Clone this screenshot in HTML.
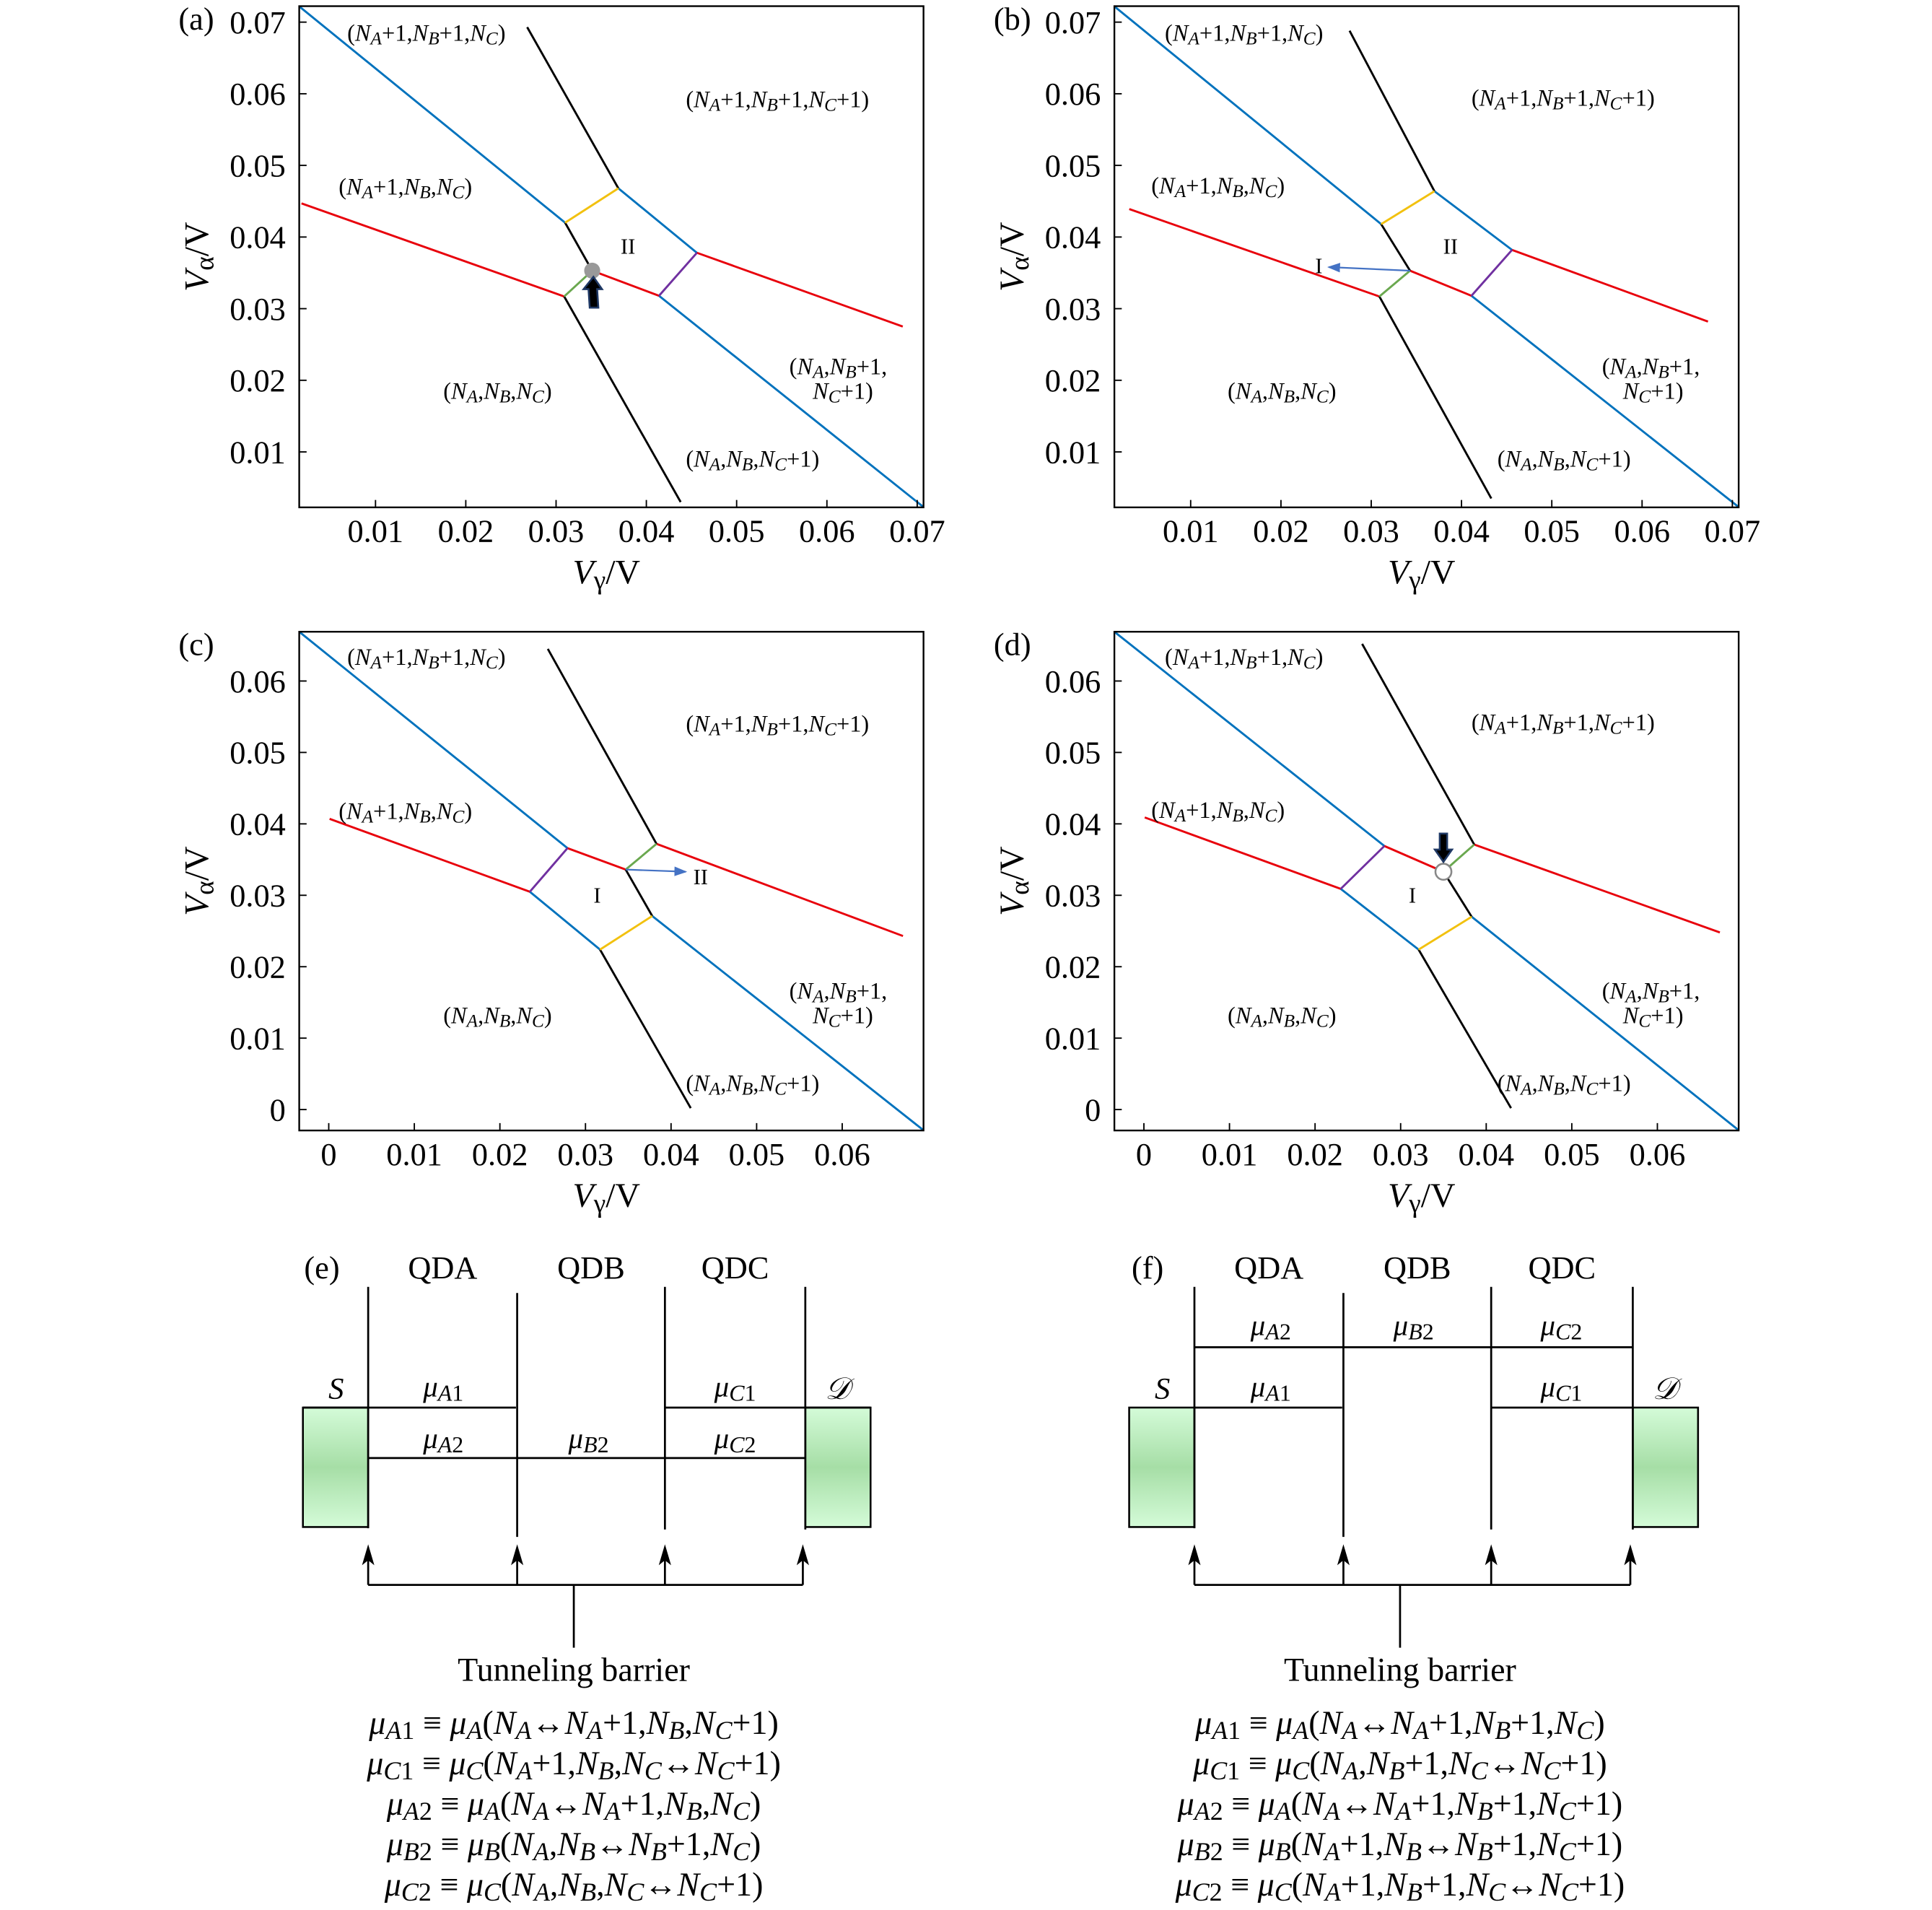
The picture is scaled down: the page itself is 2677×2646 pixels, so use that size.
<!DOCTYPE html>
<html><head><meta charset="utf-8">
<style>
html,body{margin:0;padding:0;background:#fff;overflow:hidden;}
svg{display:block;font-family:"Liberation Serif",serif;}
</style></head>
<body>
<svg id="fig" width="2677" height="2646" viewBox="0 0 1569 1551" preserveAspectRatio="none" xmlns="http://www.w3.org/2000/svg">
<defs>
<linearGradient id="lead" x1="0" y1="0" x2="0" y2="1">
<stop offset="0" stop-color="#d4fbd8"/><stop offset="0.5" stop-color="#a6dea6"/><stop offset="1" stop-color="#d4fbd8"/>
</linearGradient>
<marker id="bluehead" markerWidth="8" markerHeight="6" refX="7" refY="3" orient="auto"><path d="M0,0 L8,3 L0,6 z" fill="#4472c4"/></marker>
</defs>
<g id="charts"></g>
<g id="diagrams"></g>
</svg>
<script>
// ---------- chart data ----------
const xTicksAB = [0.01,0.02,0.03,0.04,0.05,0.06,0.07];
const yTicksAB = [0.01,0.02,0.03,0.04,0.05,0.06,0.07];
const xTickLabelsAB = ["0.01","0.02","0.03","0.04","0.05","0.06","0.07"];
const yTickLabelsAB = ["0.01","0.02","0.03","0.04","0.05","0.06","0.07"];
const xTicksCD = [0,0.01,0.02,0.03,0.04,0.05,0.06];
const yTicksCD = [0,0.01,0.02,0.03,0.04,0.05,0.06];
const xTickLabelsCD = ["0","0.01","0.02","0.03","0.04","0.05","0.06"];
const yTickLabelsCD = ["0","0.01","0.02","0.03","0.04","0.05","0.06"];
const xDomainAB = [0.00155,0.0707];
const yDomainAB = [0.00226,0.07223];
const xDomainCD = [-0.00345,0.0695];
const yDomainCD = [-0.00293,0.0669];

const blueA = [[[0.00155,0.0722],[0.0310,0.0420]],[[0.0369,0.0468],[0.0456,0.0378]],[[0.0414,0.0318],[0.0707,0.0023]]];
const redA = [[[0.0018,0.0447],[0.0309,0.0317]],[[0.0340,0.0353],[0.0414,0.0318]],[[0.0456,0.0378],[0.0684,0.0275]]];
const blackA = [[[0.0268,0.0693],[0.0369,0.0468]],[[0.0310,0.0420],[0.0340,0.0353]],[[0.0309,0.0317],[0.0438,0.0030]]];
const yellowA = [[[0.0310,0.0420],[0.0369,0.0468]]];
const greenA = [[[0.0309,0.0317],[0.0340,0.0353]]];
const purpleA = [[[0.0414,0.0318],[0.0456,0.0378]]];
const markerA = [0.0340,0.0353];

const blueB = [[[0.00155,0.0722],[0.0311,0.0418]],[[0.0370,0.0464],[0.0456,0.0382]],[[0.0411,0.0318],[0.0707,0.0023]]];
const redB = [[[0.0032,0.0439],[0.0309,0.0317]],[[0.0343,0.0353],[0.0411,0.0318]],[[0.0456,0.0382],[0.0673,0.0282]]];
const blackB = [[[0.0276,0.0688],[0.0370,0.0464]],[[0.0311,0.0418],[0.0343,0.0353]],[[0.0309,0.0317],[0.0433,0.0035]]];
const yellowB = [[[0.0311,0.0418],[0.0370,0.0464]]];
const greenB = [[[0.0309,0.0317],[0.0343,0.0353]]];
const purpleB = [[[0.0411,0.0318],[0.0456,0.0382]]];
const arrowB = [[0.0343,0.0353],[0.0253,0.0358]];

const blueC = [[[-0.00345,0.0669],[0.0279,0.0366]],[[0.0235,0.0305],[0.0317,0.0224]],[[0.0378,0.0271],[0.0695,-0.0029]]];
const redC = [[[0.0001,0.0407],[0.0235,0.0305]],[[0.0279,0.0366],[0.0347,0.0336]],[[0.0383,0.0372],[0.0671,0.0243]]];
const blackC = [[[0.0256,0.0645],[0.0383,0.0372]],[[0.0347,0.0336],[0.0378,0.0271]],[[0.0317,0.0224],[0.0423,0.0002]]];
const yellowC = [[[0.0317,0.0224],[0.0378,0.0271]]];
const greenC = [[[0.0347,0.0336],[0.0383,0.0372]]];
const purpleC = [[[0.0235,0.0305],[0.0279,0.0366]]];
const arrowC = [[0.0347,0.0336],[0.0417,0.0333]];

const blueD = [[[-0.00345,0.0669],[0.0281,0.0369]],[[0.0230,0.0309],[0.0321,0.0224]],[[0.0383,0.0270],[0.0695,-0.0029]]];
const redD = [[[0.0001,0.0409],[0.0230,0.0309]],[[0.0281,0.0369],[0.0350,0.0333]],[[0.0386,0.0371],[0.0673,0.0248]]];
const blackD = [[[0.0255,0.0652],[0.0386,0.0371]],[[0.0350,0.0333],[0.0383,0.0270]],[[0.0321,0.0224],[0.0429,0.0002]]];
const yellowD = [[[0.0321,0.0224],[0.0383,0.0270]]];
const greenD = [[[0.0350,0.0333],[0.0386,0.0371]]];
const purpleD = [[[0.0230,0.0309],[0.0281,0.0369]]];
const markerD = [0.0350,0.0333];

// ---------- helpers ----------
const NS = "http://www.w3.org/2000/svg";
function el(tag, attrs, parent){
  const e = document.createElementNS(NS, tag);
  for (const k in attrs) e.setAttribute(k, attrs[k]);
  parent.appendChild(e);
  return e;
}
function rich(s){
  s = s.replace(/_\{([^}]*)\}/g, '<tspan font-size="78%" baseline-shift="-20%">$1</tspan>');
  s = s.replace(/\*([^*]+)\*/g, '<tspan font-style="italic">$1</tspan>');
  return s;
}
function N(x){ return `*N*_{*${x}*}`; }
function mu(x,d){ return `*μ*_{*${x}*${d||""}}`; }
function txt(parent, x, y, s, size, anchor, name){
  const t = el("text", {x:x, y:y, "font-size":size, "text-anchor":anchor||"start", fill:"#000"}, parent);
  t.innerHTML = rich(s);
  
  
  return t;
}
const COLORS = {blue:"#0072bd", red:"#e8000b", black:"#000", yellow:"#f2c10f", green:"#6aa84f", purple:"#7030a0"};

function panel(cfg){
  const g = el("g", {}, document.getElementById("charts"));
  
  
  const [L,T,R,B] = cfg.box;
  const sx = v => L + (v - cfg.xd[0]) * (R - L) / (cfg.xd[1] - cfg.xd[0]);
  const sy = v => B - (v - cfg.yd[0]) * (B - T) / (cfg.yd[1] - cfg.yd[0]);
  const clip = el("clipPath", {id:"clip"+cfg.id}, g);
  el("rect", {x:L, y:T, width:R-L, height:B-T}, clip);
  const plot = el("g", {"clip-path":`url(#clip${cfg.id})`}, g);
  
  
  for (const key of ["blue","red","black","yellow","green","purple"]){
    for (const seg of cfg.series[key]){
      const l = el("polyline", {points: seg.map(p => sx(p[0])+","+sy(p[1])).join(" "), fill:"none", stroke:COLORS[key], "stroke-width":1.7}, plot);
      
      
    }
  }
  const fr = el("rect", {x:L, y:T, width:R-L, height:B-T, fill:"none", stroke:"#000", "stroke-width":1.4}, g);
  
  
  cfg.xt.forEach((v,i) => {
    const tk = el("line", {x1:sx(v), x2:sx(v), y1:B, y2:B-6, stroke:"#000", "stroke-width":1.1}, g);
    
    
    txt(g, sx(v), B+28, cfg.xl[i], 26, "middle", "x-tick-label");
  });
  cfg.yt.forEach((v,i) => {
    const tk = el("line", {x1:L, x2:L+6, y1:sy(v), y2:sy(v), stroke:"#000", "stroke-width":1.1}, g);
    
    
    txt(g, L-11, sy(v)+9, cfg.yl[i], 26, "end", "y-tick-label");
  });
  txt(g, (L+R)/2 - 4, B+62, "*V*_{γ}/V", 28, "middle", "x-axis-title");
  const yl = txt(g, 0, 0, "*V*_{α}/V", 28, "middle", "y-axis-title");
  yl.setAttribute("transform", `translate(${L-74},${(T+B)/2}) rotate(-90)`);
  txt(g, L-98, T+19, "("+cfg.id+")", 26, "start", "panel-label");
  cfg.labels.forEach(lb => txt(g, lb[0], lb[1], lb[2], 19, "start", "charge-state-label"));
  return {g, sx, sy};
}

const labAB = (dx, dy) => [
  [282+dx, 33+dy, `(${N("A")}+1,${N("B")}+1,${N("C")})`],
  [557+dx, 87+dy, `(${N("A")}+1,${N("B")}+1,${N("C")}+1)`],
  [275+dx, 158+dy, `(${N("A")}+1,${N("B")},${N("C")})`],
  [641+dx, 304+dy, `(${N("A")},${N("B")}+1,`],
  [660+dx, 324+dy, `${N("C")}+1)`],
  [360+dx, 324+dy, `(${N("A")},${N("B")},${N("C")})`],
  [557+dx, 379+dy, `(${N("A")},${N("B")},${N("C")}+1)`]
];
function shiftB(arr){ return arr.map((a,i)=>{ const adj=[[2,0],[-24,-1],[-2,-1],[-2,0],[-4,0],[-25,0],[-3,0]][i]; return [a[0]+adj[0],a[1]+adj[1],a[2]]; }); }

const pa = panel({id:"a", box:[243,5,750,412], xd:xDomainAB, yd:yDomainAB, xt:xTicksAB, yt:yTicksAB, xl:xTickLabelsAB, yl:yTickLabelsAB,
  series:{blue:blueA, red:redA, black:blackA, yellow:yellowA, green:greenA, purple:purpleA}, labels:labAB(0,0)});
const pb = panel({id:"b", box:[905,5,1412,412], xd:xDomainAB, yd:yDomainAB, xt:xTicksAB, yt:yTicksAB, xl:xTickLabelsAB, yl:yTickLabelsAB,
  series:{blue:blueB, red:redB, black:blackB, yellow:yellowB, green:greenB, purple:purpleB}, labels:shiftB(labAB(662,0))});
const pc = panel({id:"c", box:[243,513,750,918], xd:xDomainCD, yd:yDomainCD, xt:xTicksCD, yt:yTicksCD, xl:xTickLabelsCD, yl:yTickLabelsCD,
  series:{blue:blueC, red:redC, black:blackC, yellow:yellowC, green:greenC, purple:purpleC}, labels:labAB(0,507)});
const pd = panel({id:"d", box:[905,513,1412,918], xd:xDomainCD, yd:yDomainCD, xt:xTicksCD, yt:yTicksCD, xl:xTickLabelsCD, yl:yTickLabelsCD,
  series:{blue:blueD, red:redD, black:blackD, yellow:yellowD, green:greenD, purple:purpleD}, labels:shiftB(labAB(662,507))});

txt(pa.g, 510, 206, "II", 18, "middle", "region-II-label");
txt(pb.g, 1178, 206, "II", 18, "middle", "region-II-label");
txt(pc.g, 485, 733, "I", 18, "middle", "region-I-label");
txt(pd.g, 1147, 733, "I", 18, "middle", "region-I-label");
{
  const cx = pa.sx(markerA[0]), cy = pa.sy(markerA[1]);
  const dot = el("circle", {cx:cx, cy:cy, r:6.5, fill:"#999"}, pa.g);
  
  
  const ar = el("path", {d:`M${cx+1},${cy+5} l7,10 h-4 l1,15 h-7 l-1,-15 h-4 z`, fill:"#000", stroke:"#1f3864", "stroke-width":1.5}, pa.g);
  
  
}
{
  const cx = pd.sx(markerD[0]), cy = pd.sy(markerD[1]);
  const dot = el("circle", {cx:cx, cy:cy, r:6.5, fill:"#fff", stroke:"#888", "stroke-width":1.5}, pd.g);
  
  
  const ar = el("path", {d:`M${cx},${cy-8} l7,-10 h-4 v-13 h-6 v13 h-4 z`, fill:"#000", stroke:"#1f3864", "stroke-width":1.5}, pd.g);
  
  
}
{
  const a1 = el("line", {x1:pb.sx(arrowB[0][0]), y1:pb.sy(arrowB[0][1]), x2:pb.sx(arrowB[1][0]), y2:pb.sy(arrowB[1][1]), stroke:"#4472c4", "stroke-width":1.3, "marker-end":"url(#bluehead)"}, pb.g);
  
  
  txt(pb.g, 1071, 222, "I", 18, "middle", "region-I-label");
  const a2 = el("line", {x1:pc.sx(arrowC[0][0]), y1:pc.sy(arrowC[0][1]), x2:pc.sx(arrowC[1][0]), y2:pc.sy(arrowC[1][1]), stroke:"#4472c4", "stroke-width":1.3, "marker-end":"url(#bluehead)"}, pc.g);
  
  
  txt(pc.g, 569, 718, "II", 18, "middle", "region-II-label");
}

// ---------- energy diagrams ----------
function diagram(id, ox, walls, levels, muLabels, eqs, cx){
  const g = el("g", {}, document.getElementById("diagrams"));
  
  
  txt(g, ox+247, 1038, "("+id+")", 26, "start", "panel-label");
  [["QDA",0],["QDB",1],["QDC",2]].forEach(q => txt(g, (walls[q[1]][0]+walls[q[1]+1][0])/2, 1038, q[0], 26, "middle", "dot-title"));
  const s = el("rect", {x:walls[0][0]-53, y:1143, width:53, height:97, fill:"url(#lead)", stroke:"#000", "stroke-width":1.5}, g);
  
  
  const d = el("rect", {x:walls[3][0], y:1143, width:53, height:97, fill:"url(#lead)", stroke:"#000", "stroke-width":1.5}, g);
  
  
  txt(g, walls[0][0]-26, 1136, "*S*", 25, "middle", "source-label");
  txt(g, walls[3][0]+26, 1136, "*𝒟*", 25, "middle", "drain-label");
  walls.forEach(w => {
    const l = el("line", {x1:w[0], x2:w[0], y1:w[1], y2:w[2], stroke:"#000", "stroke-width":1.6}, g);
    
    
  });
  levels.forEach(lv => {
    const l = el("line", {x1:lv[0], x2:lv[1], y1:lv[2], y2:lv[2], stroke:"#000", "stroke-width":1.6}, g);
    
    
  });
  muLabels.forEach(m => txt(g, m[0], m[1], m[2], 24, "middle", "chemical-potential-label"));
  const ax = [walls[0][0], walls[1][0], walls[2][0], walls[3][0]-2];
  const h = el("line", {x1:ax[0], x2:ax[3], y1:1287, y2:1287, stroke:"#000", "stroke-width":1.6}, g);
  
  
  ax.forEach(x => {
    const a = el("line", {x1:x, x2:x, y1:1287, y2:1266, stroke:"#000", "stroke-width":1.6}, g);
    
    
    const hd = el("path", {d:`M${x},1254 L${x-5},1271 L${x},1267 L${x+5},1271 z`, fill:"#000"}, g);
    
    
  });
  const st = el("line", {x1:cx, x2:cx, y1:1287, y2:1338, stroke:"#000", "stroke-width":1.6}, g);
  
  
  txt(g, cx, 1365, "Tunneling barrier", 27, "middle", "tunneling-barrier-label");
  eqs.forEach((e,i) => txt(g, cx, 1408 + i*32.8, e, 27, "middle", "potential-definition"));
}
const A=N("A"),B=N("B"),C=N("C");
diagram("e", 0, [[299,1045,1241],[420,1050,1248],[540,1045,1242],[654,1045,1242]],
  [[246,419,1143],[540,707,1143],[299,654,1184]],
  [[360,1134,mu("A",1)],[597,1134,mu("C",1)],[360,1176,mu("A",2)],[478,1176,mu("B",2)],[597,1176,mu("C",2)]],
  [`${mu("A",1)} ≡ ${mu("A")}(${A}↔${A}+1,${B},${C}+1)`,
   `${mu("C",1)} ≡ ${mu("C")}(${A}+1,${B},${C}↔${C}+1)`,
   `${mu("A",2)} ≡ ${mu("A")}(${A}↔${A}+1,${B},${C})`,
   `${mu("B",2)} ≡ ${mu("B")}(${A},${B}↔${B}+1,${C})`,
   `${mu("C",2)} ≡ ${mu("C")}(${A},${B},${C}↔${C}+1)`], 466);
diagram("f", 672, [[970,1045,1241],[1091,1050,1248],[1211,1045,1242],[1326,1045,1242]],
  [[970,1326,1094],[970,1090,1143],[1211,1326,1143]],
  [[1032,1084,mu("A",2)],[1148,1084,mu("B",2)],[1268,1084,mu("C",2)],[1032,1134,mu("A",1)],[1268,1134,mu("C",1)]],
  [`${mu("A",1)} ≡ ${mu("A")}(${A}↔${A}+1,${B}+1,${C})`,
   `${mu("C",1)} ≡ ${mu("C")}(${A},${B}+1,${C}↔${C}+1)`,
   `${mu("A",2)} ≡ ${mu("A")}(${A}↔${A}+1,${B}+1,${C}+1)`,
   `${mu("B",2)} ≡ ${mu("B")}(${A}+1,${B}↔${B}+1,${C}+1)`,
   `${mu("C",2)} ≡ ${mu("C")}(${A}+1,${B}+1,${C}↔${C}+1)`], 1137);
</script>
</body></html>
